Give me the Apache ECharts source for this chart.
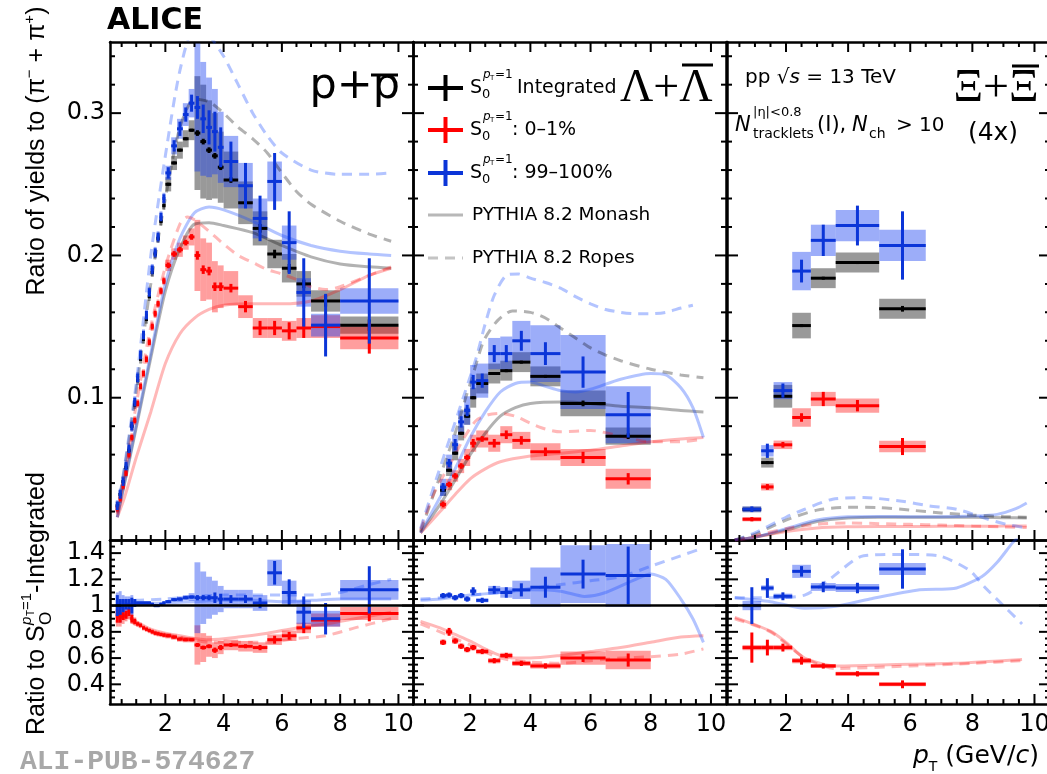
<!DOCTYPE html>
<html>
<head>
<meta charset="utf-8">
<script src="https://cdn.jsdelivr.net/npm/echarts@6/dist/echarts.min.js"></script>
<style>
html,body{margin:0;padding:0;background:#fff;overflow:hidden}
#chart{width:1047px;height:774px}
</style>
</head>
<body>
<div id="chart"></div>
<script>
// ---------- p + pbar ----------
const ppPt   = [0.35,0.45,0.55,0.65,0.75,0.85,0.95,1.05,1.15,1.25,1.35,1.45,1.55,1.65,1.75,1.85,1.95,2.1,2.3,2.5,2.7,2.9,3.1,3.3,3.5,3.7,3.9,4.25,4.75,5.25,5.75,6.25,6.75,7.5,9.0];
const ppHalf = [0.05,0.05,0.05,0.05,0.05,0.05,0.05,0.05,0.05,0.05,0.05,0.05,0.05,0.05,0.05,0.05,0.05,0.1,0.1,0.1,0.1,0.1,0.1,0.1,0.1,0.1,0.1,0.25,0.25,0.25,0.25,0.25,0.25,0.5,1.0];

const ppIntY    = [0.024,0.032,0.041,0.051,0.063,0.080,0.095,0.112,0.127,0.141,0.155,0.171,0.188,0.201,0.212,0.224,0.235,0.250,0.265,0.274,0.282,0.288,0.286,0.280,0.274,0.270,0.262,0.253,0.237,0.219,0.201,0.191,0.180,0.168,0.151];
const ppIntStat = [0.001,0.001,0.001,0.001,0.001,0.001,0.001,0.001,0.001,0.001,0.001,0.001,0.001,0.001,0.001,0.001,0.001,0.001,0.001,0.001,0.001,0.001,0.002,0.002,0.002,0.002,0.002,0.002,0.003,0.003,0.003,0.003,0.003,0.004,0.004];
const ppIntSyst = [0.003,0.003,0.003,0.003,0.003,0.003,0.003,0.003,0.003,0.003,0.003,0.003,0.003,0.003,0.003,0.003,0.003,0.005,0.005,0.006,0.006,0.007,0.04,0.04,0.035,0.03,0.025,0.02,0.015,0.012,0.01,0.01,0.009,0.0075,0.006];

const ppLowY    = [0.022,0.029,0.038,0.047,0.060,0.072,0.084,0.096,0.108,0.117,0.127,0.139,0.150,0.159,0.166,0.175,0.182,0.193,0.201,0.204,0.209,0.213,0.200,0.190,0.189,0.178,0.178,0.177,0.164,0.149,0.149,0.147,0.149,0.150,0.142];
const ppLowStat = [0.002,0.002,0.002,0.002,0.002,0.002,0.002,0.002,0.002,0.002,0.002,0.002,0.002,0.002,0.002,0.002,0.002,0.002,0.002,0.002,0.002,0.002,0.003,0.003,0.003,0.003,0.003,0.003,0.004,0.005,0.005,0.006,0.007,0.009,0.011];
const ppLowSyst = [0.003,0.003,0.003,0.003,0.003,0.003,0.003,0.003,0.003,0.003,0.003,0.003,0.003,0.003,0.003,0.003,0.003,0.004,0.004,0.005,0.005,0.006,0.025,0.022,0.02,0.018,0.015,0.012,0.008,0.007,0.007,0.007,0.007,0.008,0.008];

const ppHighY    = [0.024,0.032,0.041,0.052,0.064,0.080,0.097,0.114,0.130,0.144,0.158,0.174,0.190,0.202,0.213,0.227,0.240,0.258,0.277,0.289,0.299,0.307,0.304,0.296,0.290,0.287,0.276,0.266,0.249,0.226,0.252,0.209,0.174,0.151,0.168];
const ppHighStat = [0.003,0.003,0.003,0.003,0.003,0.003,0.003,0.003,0.003,0.003,0.003,0.003,0.003,0.003,0.003,0.003,0.003,0.004,0.004,0.005,0.005,0.006,0.008,0.01,0.012,0.014,0.014,0.014,0.016,0.016,0.02,0.022,0.024,0.022,0.03];
const ppHighSyst = [0.004,0.004,0.004,0.004,0.004,0.004,0.004,0.004,0.004,0.004,0.004,0.004,0.004,0.004,0.004,0.004,0.004,0.005,0.006,0.007,0.008,0.01,0.045,0.04,0.035,0.03,0.025,0.018,0.016,0.014,0.014,0.012,0.01,0.008,0.009];

const ppLowR      = [0.92,0.91,0.92,0.93,0.95,0.90,0.88,0.86,0.85,0.83,0.82,0.81,0.80,0.79,0.785,0.78,0.775,0.77,0.76,0.745,0.74,0.74,0.70,0.68,0.69,0.66,0.68,0.70,0.69,0.68,0.74,0.77,0.83,0.89,0.94];
const ppLowRStat  = [0.05,0.04,0.03,0.03,0.03,0.03,0.02,0.01,0.01,0.01,0.01,0.01,0.01,0.01,0.01,0.01,0.01,0.01,0.01,0.01,0.01,0.01,0.015,0.015,0.015,0.02,0.02,0.015,0.015,0.02,0.03,0.03,0.04,0.05,0.06];
const ppLowRSyst  = [0.08,0.07,0.06,0.05,0.05,0.04,0.03,0.02,0.02,0.02,0.02,0.02,0.02,0.02,0.02,0.02,0.02,0.02,0.02,0.02,0.02,0.02,0.15,0.11,0.08,0.06,0.05,0.04,0.04,0.04,0.04,0.04,0.04,0.05,0.05];
const ppHighR     = [1.0,0.99,1.0,1.01,1.01,1.0,1.02,1.02,1.02,1.02,1.02,1.02,1.01,1.0,1.0,1.01,1.02,1.03,1.045,1.05,1.06,1.065,1.06,1.06,1.06,1.06,1.05,1.05,1.05,1.02,1.25,1.10,0.95,0.90,1.12];
const ppHighRStat = [0.08,0.06,0.05,0.04,0.04,0.06,0.03,0.01,0.01,0.01,0.01,0.01,0.01,0.01,0.01,0.01,0.01,0.01,0.01,0.01,0.01,0.01,0.02,0.02,0.02,0.04,0.04,0.03,0.03,0.04,0.09,0.1,0.12,0.12,0.18];
const ppHighRSyst = [0.1,0.12,0.08,0.06,0.06,0.08,0.03,0.01,0.01,0.01,0.01,0.01,0.01,0.01,0.01,0.01,0.01,0.01,0.01,0.02,0.02,0.03,0.27,0.2,0.16,0.13,0.1,0.07,0.07,0.06,0.1,0.09,0.09,0.06,0.075];

const ppMonashInt  = [[0.35,0.016],[0.6,0.04],[1.0,0.079],[1.5,0.128],[2.0,0.175],[2.5,0.205],[3.0,0.222],[3.5,0.223],[4.0,0.221],[5.0,0.216],[6.0,0.207],[7.0,0.199],[8.0,0.194],[9.0,0.192],[9.75,0.191]];
const ppMonashLow  = [[0.35,0.016],[0.6,0.03],[1.0,0.058],[1.5,0.09],[2.0,0.124],[2.5,0.145],[3.0,0.156],[3.5,0.162],[4.0,0.165],[5.0,0.166],[6.0,0.166],[7.0,0.168],[8.0,0.176],[9.0,0.186],[9.75,0.191]];
const ppMonashHigh = [[0.35,0.016],[0.6,0.041],[1.0,0.081],[1.5,0.131],[2.0,0.18],[2.5,0.212],[3.0,0.23],[3.5,0.234],[4.0,0.232],[5.0,0.224],[6.0,0.214],[7.0,0.207],[8.0,0.203],[9.0,0.201],[9.75,0.2]];
const ppRopesInt   = [[0.35,0.02],[0.6,0.05],[1.0,0.105],[1.5,0.18],[2.0,0.24],[2.5,0.29],[3.0,0.31],[3.5,0.308],[4.0,0.3],[4.5,0.29],[5.0,0.282],[5.5,0.272],[6.0,0.258],[6.5,0.245],[7.0,0.236],[8.0,0.224],[9.0,0.215],[9.75,0.21]];
const ppRopesLow   = [[0.35,0.018],[0.6,0.045],[1.0,0.095],[1.5,0.15],[2.0,0.192],[2.5,0.222],[2.75,0.227],[3.0,0.225],[3.5,0.217],[4.0,0.208],[4.5,0.2],[5.0,0.195],[5.5,0.19],[6.0,0.187],[6.5,0.183],[7.0,0.178],[7.5,0.176],[8.0,0.178],[9.0,0.186],[9.75,0.192]];
const ppRopesHigh  = [[0.35,0.02],[0.6,0.052],[1.0,0.11],[1.5,0.2],[2.0,0.27],[2.5,0.33],[3.0,0.36],[3.3,0.36],[3.5,0.355],[4.0,0.34],[4.5,0.32],[5.0,0.30],[5.5,0.284],[6.0,0.272],[7.0,0.26],[8.0,0.257],[9.0,0.257],[9.75,0.258]];
const ppMonashRLow  = [[0.35,0.94],[0.8,0.9],[1.5,0.82],[2.0,0.79],[2.5,0.77],[3.0,0.75],[3.5,0.74],[4.5,0.76],[5.5,0.79],[6.5,0.83],[7.5,0.86],[8.5,0.9],[9.75,0.95]];
const ppRopesRLow   = [[0.35,0.93],[0.8,0.88],[1.5,0.8],[2.5,0.76],[3.5,0.72],[4.5,0.72],[5.5,0.72],[6.5,0.75],[7.5,0.77],[8.5,0.83],[9.75,0.9]];
const ppMonashRHigh = [[0.35,1.0],[1,1.01],[2,1.02],[3,1.03],[4,1.04],[5,1.04],[6,1.03],[7,1.04],[8,1.05],[9,1.05],[9.75,1.05]];
const ppRopesRHigh  = [[0.35,1.02],[1,1.04],[2,1.05],[3,1.07],[4,1.08],[5,1.08],[6,1.08],[7,1.08],[8,1.1],[9,1.16],[9.75,1.2]];

// ---------- Lambda + Lambdabar ----------
const lamPt   = [1.1,1.3,1.5,1.7,1.9,2.1,2.4,2.8,3.2,3.7,4.5,5.75,7.25];
const lamHalf = [0.1,0.1,0.1,0.1,0.1,0.1,0.2,0.2,0.2,0.3,0.5,0.75,0.75];
const lamIntY     = [0.035,0.049,0.061,0.075,0.087,0.100,0.110,0.117,0.119,0.125,0.115,0.096,0.073];
const lamIntStat  = [0.001,0.001,0.001,0.001,0.001,0.001,0.001,0.001,0.001,0.001,0.001,0.002,0.002];
const lamIntSyst  = [0.004,0.004,0.005,0.005,0.006,0.007,0.007,0.007,0.007,0.007,0.007,0.009,0.006];
const lamLowY     = [0.025,0.039,0.045,0.052,0.058,0.068,0.071,0.068,0.074,0.070,0.062,0.058,0.043];
const lamLowStat  = [0.002,0.002,0.002,0.002,0.002,0.003,0.002,0.003,0.003,0.003,0.003,0.004,0.004];
const lamLowSyst  = [0.003,0.004,0.004,0.005,0.006,0.006,0.006,0.006,0.006,0.006,0.006,0.006,0.007];
const lamHighY    = [0.037,0.054,0.067,0.083,0.091,0.111,0.112,0.131,0.131,0.140,0.131,0.118,0.088];
const lamHighStat = [0.003,0.003,0.004,0.004,0.004,0.005,0.005,0.006,0.006,0.007,0.008,0.011,0.016];
const lamHighSyst = [0.006,0.006,0.007,0.008,0.01,0.012,0.012,0.011,0.012,0.014,0.02,0.026,0.02];
const lamLowR      = [0.72,0.80,0.73,0.69,0.665,0.68,0.65,0.58,0.62,0.56,0.54,0.60,0.585];
const lamLowRStat  = [0.02,0.03,0.02,0.02,0.02,0.02,0.02,0.02,0.02,0.02,0.02,0.03,0.05];
const lamLowRSyst  = [0.02,0.02,0.02,0.02,0.02,0.02,0.02,0.02,0.02,0.02,0.02,0.05,0.07];
const lamHighR     = [1.076,1.08,1.06,1.076,1.05,1.11,1.04,1.12,1.10,1.12,1.14,1.24,1.23];
const lamHighRStat = [0.02,0.02,0.02,0.02,0.02,0.03,0.02,0.03,0.04,0.05,0.08,0.11,0.22];
const lamHighRSyst = [0.015,0.015,0.015,0.015,0.015,0.015,0.015,0.03,0.04,0.07,0.15,0.22,0.24];

const lamMonashInt  = [[0.35,0.005],[1,0.025],[1.5,0.042],[2,0.06],[2.5,0.075],[3,0.087],[3.5,0.093],[4,0.096],[5,0.097],[6,0.096],[7,0.094],[8,0.093],[9,0.091],[9.75,0.09]];
const lamMonashLow  = [[0.35,0.005],[1,0.02],[1.5,0.032],[2,0.043],[2.5,0.05],[3,0.055],[4,0.059],[5,0.061],[6,0.063],[7,0.066],[8,0.069],[9,0.071],[9.75,0.072]];
const lamMonashHigh = [[0.35,0.005],[1,0.03],[1.5,0.05],[2,0.072],[2.5,0.09],[3,0.104],[3.5,0.11],[4,0.111],[4.5,0.108],[5,0.105],[5.5,0.104],[6,0.106],[7,0.113],[8,0.117],[8.5,0.116],[9,0.107],[9.4,0.093],[9.75,0.072]];
const lamRopesInt   = [[0.35,0.006],[1.0,0.045],[1.5,0.075],[1.85,0.1],[2.05,0.113],[2.45,0.14],[2.9,0.154],[3.4,0.161],[4,0.16],[4.5,0.156],[5,0.149],[5.5,0.142],[6,0.135],[6.5,0.13],[7,0.126],[8,0.12],[9,0.116],[9.75,0.114]];
const lamRopesLow   = [[0.35,0.007],[0.8,0.033],[1.4,0.056],[1.8,0.072],[2.2,0.084],[2.6,0.088],[3.0,0.089],[3.5,0.087],[4.0,0.082],[4.5,0.078],[5.0,0.076],[6.0,0.077],[7.0,0.073],[8.0,0.069],[9.0,0.069],[9.75,0.071]];
const lamRopesHigh  = [[0.35,0.008],[0.8,0.038],[1.3,0.07],[1.8,0.102],[2.2,0.128],[2.5,0.152],[2.8,0.172],[3.2,0.186],[3.6,0.187],[4.0,0.184],[4.5,0.181],[5.0,0.177],[5.5,0.171],[6.0,0.166],[6.5,0.162],[7.0,0.16],[7.5,0.159],[8.0,0.159],[8.5,0.16],[9.0,0.163],[9.4,0.165]];
const lamMonashRLow  = [[0.35,0.88],[1,0.83],[1.5,0.78],[2,0.73],[2.5,0.67],[3,0.62],[3.5,0.6],[4,0.6],[5,0.62],[6,0.65],[7,0.68],[8,0.72],[9,0.76],[9.75,0.77]];
const lamRopesRLow   = [[0.35,0.86],[1,0.8],[2,0.7],[3,0.6],[4,0.57],[5,0.56],[6,0.58],[7,0.6],[8,0.61],[9,0.63],[9.75,0.67]];
const lamMonashRHigh = [[0.35,1.04],[1,1.05],[2,1.08],[3,1.1],[4,1.12],[5,1.11],[5.8,1.07],[6.5,1.1],[7.5,1.2],[8,1.24],[8.5,1.2],[9,1.05],[9.4,0.9],[9.75,0.72]];
const lamRopesRHigh  = [[0.35,1.05],[1,1.06],[2,1.08],[3,1.1],[4,1.13],[5,1.16],[6,1.19],[7,1.22],[8,1.3],[9,1.38],[9.75,1.44]];

// ---------- Xi + Xibar (4x) ----------
const xiPt   = [0.9,1.4,1.9,2.5,3.2,4.3,5.75];
const xiHalf = [0.3,0.2,0.3,0.3,0.4,0.7,0.75];
const xiIntY     = [0.0215,0.0544,0.101,0.1507,0.184,0.195,0.1625];
const xiIntStat  = [0.001,0.001,0.001,0.001,0.001,0.001,0.002];
const xiIntSyst  = [0.002,0.0035,0.008,0.009,0.007,0.007,0.007];
const xiLowY     = [0.0146,0.0373,0.0669,0.0861,0.0991,0.0944,0.0657];
const xiLowStat  = [0.0015,0.002,0.002,0.003,0.005,0.004,0.006];
const xiLowSyst  = [0.0015,0.0025,0.003,0.0065,0.005,0.005,0.004];
const xiHighY    = [0.0216,0.0627,0.105,0.189,0.2106,0.221,0.207];
const xiHighStat = [0.002,0.005,0.005,0.008,0.011,0.014,0.024];
const xiHighSyst = [0.002,0.004,0.006,0.0135,0.011,0.011,0.011];
const xiLowR      = [0.68,0.68,0.68,0.58,0.54,0.48,0.40];
const xiLowRStat  = [0.115,0.06,0.03,0.03,0.02,0.02,0.03];
const xiLowRSyst  = [0.02,0.02,0.02,0.02,0.015,0.015,0.015];
const xiHighR     = [1.0,1.134,1.071,1.261,1.142,1.134,1.279];
const xiHighRStat = [0.14,0.075,0.03,0.04,0.04,0.04,0.15];
const xiHighRSyst = [0.035,0.02,0.02,0.05,0.03,0.03,0.045];

const xiMonashInt  = [[0.35,0.0],[1,0.002],[2,0.007],[3,0.013],[4,0.0155],[5,0.016],[6,0.016],[7,0.016],[8,0.016],[9,0.0157],[9.75,0.0155]];
const xiMonashLow  = [[0.35,0.0],[1,0.002],[2,0.006],[3,0.0085],[4,0.0093],[5,0.0095],[6,0.0095],[7,0.0096],[8,0.0097],[9,0.0098],[9.75,0.0099]];
const xiMonashHigh = [[0.35,0.0],[1,0.002],[2,0.008],[3,0.014],[4,0.0163],[5,0.0165],[6,0.0164],[7,0.0163],[8,0.0168],[8.8,0.018],[9.4,0.022],[9.75,0.026]];
const xiRopesInt   = [[0.35,0.0],[1,0.004],[2,0.014],[3,0.021],[4,0.023],[5,0.0228],[6,0.021],[7,0.019],[8,0.0175],[9,0.0165],[9.75,0.016]];
const xiRopesLow   = [[0.35,0.0],[1,0.003],[2,0.008],[3,0.011],[4,0.012],[5,0.0115],[6,0.011],[7,0.0105],[8,0.0098],[9,0.0092],[9.75,0.0087]];
const xiRopesHigh  = [[0.35,0.0],[1,0.005],[2,0.016],[2.6,0.0216],[3.5,0.0287],[4.5,0.0298],[5.8,0.027],[6.6,0.024],[7.5,0.0216],[8.5,0.0146],[9.1,0.011],[9.75,0.0085]];
const xiMonashRLow  = [[0.35,0.91],[1.5,0.805],[2.0,0.72],[2.6,0.6],[3.6,0.54],[5.3,0.55],[7.4,0.56],[9.6,0.59]];
const xiRopesRLow   = [[0.35,0.9],[1.5,0.8],[2.6,0.6],[3.6,0.52],[6.0,0.54],[8.0,0.56],[9.6,0.58]];
const xiMonashRHigh = [[0.35,1.06],[1.5,1.03],[2.6,0.98],[3.6,0.995],[4.7,1.05],[6.3,1.12],[7.4,1.13],[8.3,1.22],[8.8,1.33],[9.3,1.48],[9.6,1.55]];
const xiRopesRHigh  = [[0.35,1.06],[1.5,1.06],[2.6,1.08],[3.4,1.2],[4.5,1.38],[5.8,1.39],[6.9,1.38],[7.9,1.27],[8.4,1.14],[9.0,1.0],[9.6,0.86]];

// ---------- styling ----------
const FONT = 'DejaVu Sans';
const BLACK = '#000', RED = '#ff0000', BLUE = '#0b35d8';
const BOX_K = 'rgba(0,0,0,0.4)', BOX_R = 'rgba(255,0,0,0.38)', BOX_B = 'rgba(20,60,240,0.42)';
const MOD_K = 'rgba(0,0,0,0.3)', MOD_R = 'rgba(255,0,0,0.28)', MOD_B = 'rgba(20,70,255,0.32)';

// left, top, width, height of the six frames
const GRIDS = [[110,42,303,498],[413,42,313,498],[727,42,323,498],[110,540,303,164],[413,540,313,164],[727,540,323,164]];
const X_RANGE = [0.1, 10.5];
const Y_TOP = [0, 0.35], Y_RATIO = [0.25, 1.5];

const grid = GRIDS.map(([l,t,w,h]) => ({left:l, top:t, width:w, height:h, containLabel:false, outerBoundsMode:'none'}));
const xAxis = [], yAxis = [];
GRIDS.forEach((gd, g) => {
  const ratio = g >= 3;
  ['bottom','top'].forEach(pos => {
    xAxis.push({gridIndex:g, type:'value', position:pos, min:X_RANGE[0], max:X_RANGE[1], splitNumber:5,
      axisLine:{show:true, onZero:false, lineStyle:{color:'#000', width:2.5}},
      axisTick:{show:false},
      axisLabel:{show:ratio && pos === 'bottom', showMinLabel:false, showMaxLabel:false, margin:9,
        fontFamily:FONT, fontSize:24, color:'#000'},
      splitLine:{show:false}});
  });
  const r = ratio ? Y_RATIO : Y_TOP;
  ['left','right'].forEach(pos => {
    yAxis.push({gridIndex:g, type:'value', position:pos, min:r[0], max:r[1], splitNumber:ratio ? 6 : 4,
      axisLine:{show:true, onZero:false, lineStyle:{color:'#000', width:2.5}},
      axisTick:{show:false},
      axisLabel:{show:(g === 0 || g === 3) && pos === 'left', showMinLabel:false, showMaxLabel:false, margin:5,
        fontFamily:FONT, fontSize:24, color:'#000'},
      splitLine:{show:false}});
  });
});

function rows(pt, half, ys, errs) { return pt.map((x, i) => [x, ys[i], half[i], errs[i]]); }

function boxSeries(g, pt, half, ys, errs, color) {
  return {type:'custom', xAxisIndex:2*g, yAxisIndex:2*g, silent:true, z:1,
    data:rows(pt, half, ys, errs), encode:{x:0, y:1},
    renderItem(params, api) {
      const x = api.value(0), y = api.value(1), h = api.value(2), e = api.value(3);
      const p0 = api.coord([x - h, y + e]), p1 = api.coord([x + h, y - e]);
      const shape = echarts.graphic.clipRectByRect(
        {x:p0[0], y:p0[1], width:p1[0] - p0[0], height:p1[1] - p0[1]}, params.coordSys);
      if (!shape) return;
      return {type:'rect', shape, style:{fill:color}};
    }};
}

function crossSeries(g, pt, half, ys, errs, color) {
  return {type:'custom', xAxisIndex:2*g, yAxisIndex:2*g, silent:true, z:4,
    data:rows(pt, half, ys, errs), encode:{x:0, y:1},
    renderItem(params, api) {
      const cs = params.coordSys;
      const x = api.value(0), y = api.value(1), h = api.value(2), e = api.value(3);
      const c = api.coord([x, y]);
      if (c[1] < cs.y || c[1] > cs.y + cs.height) return;
      const xl = Math.max(api.coord([x - h, y])[0], cs.x);
      const xr = Math.min(api.coord([x + h, y])[0], cs.x + cs.width);
      const yt = Math.max(Math.min(api.coord([x, y + e])[1], c[1] - 1.5), cs.y);
      const yb = Math.min(Math.max(api.coord([x, y - e])[1], c[1] + 1.5), cs.y + cs.height);
      return {type:'group', children:[
        {type:'line', shape:{x1:xl, y1:c[1], x2:xr, y2:c[1]}, style:{stroke:color, lineWidth:3}},
        {type:'line', shape:{x1:c[0], y1:yt, x2:c[0], y2:yb}, style:{stroke:color, lineWidth:3}}
      ]};
    }};
}

function modelSeries(g, pts, color, dashed, extra) {
  return Object.assign({type:'line', xAxisIndex:2*g, yAxisIndex:2*g, data:pts, symbol:'none',
    smooth:0.25, silent:true, z:3, clip:true,
    lineStyle:{color, width:3, type:dashed ? [10, 7] : 'solid'}}, extra || {});
}

const unityLine = {markLine:{silent:true, symbol:['none','none'], label:{show:false},
  lineStyle:{color:'#000', width:2.5, type:'solid'}, data:[{yAxis:1}]}};

const series = [];
function panel(g, pt, half, sets, models) {
  sets.forEach(s => series.push(boxSeries(g, pt, half, s[0], s[2], s[4])));
  models.forEach((m, i) => series.push(modelSeries(g, m[0], m[1], m[2], g >= 3 && i === 0 ? unityLine : null)));
  sets.forEach(s => series.push(crossSeries(g, pt, half, s[0], s[1], s[3])));
}

panel(0, ppPt, ppHalf, [
  [ppIntY, ppIntStat, ppIntSyst, BLACK, BOX_K],
  [ppLowY, ppLowStat, ppLowSyst, RED, BOX_R],
  [ppHighY, ppHighStat, ppHighSyst, BLUE, BOX_B]
], [[ppMonashInt, MOD_K, false], [ppMonashLow, MOD_R, false], [ppMonashHigh, MOD_B, false],
    [ppRopesInt, MOD_K, true], [ppRopesLow, MOD_R, true], [ppRopesHigh, MOD_B, true]]);

panel(1, lamPt, lamHalf, [
  [lamIntY, lamIntStat, lamIntSyst, BLACK, BOX_K],
  [lamLowY, lamLowStat, lamLowSyst, RED, BOX_R],
  [lamHighY, lamHighStat, lamHighSyst, BLUE, BOX_B]
], [[lamMonashInt, MOD_K, false], [lamMonashLow, MOD_R, false], [lamMonashHigh, MOD_B, false],
    [lamRopesInt, MOD_K, true], [lamRopesLow, MOD_R, true], [lamRopesHigh, MOD_B, true]]);

panel(2, xiPt, xiHalf, [
  [xiIntY, xiIntStat, xiIntSyst, BLACK, BOX_K],
  [xiLowY, xiLowStat, xiLowSyst, RED, BOX_R],
  [xiHighY, xiHighStat, xiHighSyst, BLUE, BOX_B]
], [[xiMonashInt, MOD_K, false], [xiMonashLow, MOD_R, false], [xiMonashHigh, MOD_B, false],
    [xiRopesInt, MOD_K, true], [xiRopesLow, MOD_R, true], [xiRopesHigh, MOD_B, true]]);

panel(3, ppPt, ppHalf, [
  [ppLowR, ppLowRStat, ppLowRSyst, RED, BOX_R],
  [ppHighR, ppHighRStat, ppHighRSyst, BLUE, BOX_B]
], [[ppMonashRLow, MOD_R, false], [ppMonashRHigh, MOD_B, false], [ppRopesRLow, MOD_R, true], [ppRopesRHigh, MOD_B, true]]);

panel(4, lamPt, lamHalf, [
  [lamLowR, lamLowRStat, lamLowRSyst, RED, BOX_R],
  [lamHighR, lamHighRStat, lamHighRSyst, BLUE, BOX_B]
], [[lamMonashRLow, MOD_R, false], [lamMonashRHigh, MOD_B, false], [lamRopesRLow, MOD_R, true], [lamRopesRHigh, MOD_B, true]]);

panel(5, xiPt, xiHalf, [
  [xiLowR, xiLowRStat, xiLowRSyst, RED, BOX_R],
  [xiHighR, xiHighRStat, xiHighRSyst, BLUE, BOX_B]
], [[xiMonashRLow, MOD_R, false], [xiMonashRHigh, MOD_B, false], [xiRopesRLow, MOD_R, true], [xiRopesRHigh, MOD_B, true]]);

// ---------- text, legend ----------
function txt(x, y, text, size, o) {
  o = o || {};
  return {type:'text', x, y, rotation:o.rot || 0, silent:true, z:10,
    style:{text, fill:o.color || '#000',
      font:(o.italic ? 'italic ' : '') + (o.bold ? 'bold ' : '') + size + 'px "' + (o.family || FONT) + '"',
      textAlign:o.align || 'left', textVerticalAlign:'middle', rich:o.rich}};
}
function seg(x1, y1, x2, y2, color, w, dash) {
  return {type:'line', silent:true, z:10, shape:{x1, y1, x2, y2}, style:{stroke:color, lineWidth:w, lineDash:dash || null}};
}
function sLabel(x, y) {
  return [
    txt(x, y, 'S', 19),
    txt(x + 12, y + 7, '0', 13),
    txt(x + 13, y - 13, 'p', 12, {italic:true}),
    txt(x + 20, y - 10, 'T', 7),
    txt(x + 25, y - 13, '=1', 12)
  ];
}

const elements = [];
elements.push(txt(107, 21, 'ALICE', 30, {bold:true}));
elements.push(txt(20, 762, 'ALI-PUB-574627', 28, {bold:true, family:'Liberation Mono', color:'#a8a8a8'}));

// panel titles
elements.push(txt(400, 87, 'p+p', 43, {align:'right'}));
elements.push(seg(371, 75, 398, 75, '#000', 3));
elements.push(txt(620, 89, 'Λ+Λ', 46, {family:'Liberation Serif'}));
elements.push(seg(682, 65, 713, 65, '#000', 3));
elements.push(txt(996, 89, 'Ξ+Ξ', 46, {family:'Liberation Serif', align:'center'}));
elements.push(seg(1012, 66, 1039, 66, '#000', 3));
elements.push(txt(993, 133, '(4x)', 25, {align:'center'}));

// collision system
elements.push(txt(745, 78, '{n|pp }{n|√}{i|s}{n| = 13 TeV}', 20, {rich:{
  n:{fontFamily:FONT, fontSize:20}, i:{fontFamily:FONT, fontSize:20, fontStyle:'italic'}}}));
elements.push(txt(735, 126, 'N', 21, {italic:true}));
elements.push(txt(753, 113, '|η|<0.8', 13));
elements.push(txt(753, 134, 'tracklets', 14));
elements.push(txt(817, 126, '(I),', 21));
elements.push(txt(852, 126, 'N', 21, {italic:true}));
elements.push(txt(869, 134, 'ch', 14));
elements.push(txt(896, 126, '> 10', 20));

// legend
const LEG = [88, 130, 173, 215, 258];
[[BLACK, 0], [RED, 1], [BLUE, 2]].forEach(([c, i]) => {
  elements.push(seg(428, LEG[i], 463, LEG[i], c, 4));
  elements.push(seg(445.5, LEG[i] - 13, 445.5, LEG[i] + 13, c, 4));
  sLabel(470, LEG[i]).forEach(e => elements.push(e));
});
elements.push(txt(517, LEG[0], 'Integrated', 19));
elements.push(txt(512, LEG[1], ': 0–1%', 19));
elements.push(txt(512, LEG[2], ': 99–100%', 19));
elements.push(seg(428, LEG[3], 463, LEG[3], '#b8b8b8', 3));
elements.push(txt(472, LEG[3], 'PYTHIA 8.2 Monash', 18.5));
elements.push(seg(428, LEG[4], 463, LEG[4], '#c4c4c4', 3, [10, 7]));
elements.push(txt(472, LEG[4], 'PYTHIA 8.2 Ropes', 18.5));

// axis titles
const ROT = Math.PI / 2;
elements.push(txt(37, 151, '{n|Ratio of yields to (π}{s|−}{n| + π}{s|+}{n|)}', 25, {rot:ROT, align:'center', rich:{
  n:{fontFamily:'Liberation Sans', fontSize:25, lineHeight:30},
  s:{fontFamily:'Liberation Sans', fontSize:15, lineHeight:16, verticalAlign:'top'}}}));
elements.push(txt(37, 735, 'Ratio to S', 25, {rot:ROT, family:'Liberation Sans'}));
elements.push(txt(46, 625, 'O', 17, {rot:ROT, family:'Liberation Sans'}));
elements.push(txt(27, 625, 'p', 15, {rot:ROT, family:'Liberation Sans', italic:true}));
elements.push(txt(31, 616, 'T', 10, {rot:ROT, family:'Liberation Sans'}));
elements.push(txt(27, 610, '=1', 15, {rot:ROT, family:'Liberation Sans'}));
elements.push(txt(37, 593, '-Integrated', 25, {rot:ROT, family:'Liberation Sans'}));
elements.push(txt(913, 756, '{i|p}{b|T}{n| (GeV/}{i|c}{n|)}', 25, {rich:{
  n:{fontFamily:FONT, fontSize:25, lineHeight:36},
  i:{fontFamily:FONT, fontSize:25, lineHeight:36, fontStyle:'italic'},
  b:{fontFamily:FONT, fontSize:14, lineHeight:16, verticalAlign:'bottom'}}}));

const chart = echarts.init(document.getElementById('chart'), null, {renderer:'canvas'});
chart.setOption({
  animation:false,
  backgroundColor:'#fff',
  grid, xAxis, yAxis, series
});

// pixel position of a value on an axis: ask the axis scale, fall back to its linear extent
function toPx(dim, g, v) {
  const finder = dim === 'x' ? {xAxisIndex:2*g} : {yAxisIndex:2*g};
  let p = chart.convertToPixel(finder, v);
  if (Array.isArray(p)) p = p[dim === 'x' ? 0 : 1];
  if (typeof p === 'number' && isFinite(p)) return p;
  const [l, t, w, h] = GRIDS[g];
  if (dim === 'x') return l + (v - X_RANGE[0]) / (X_RANGE[1] - X_RANGE[0]) * w;
  const r = g >= 3 ? Y_RATIO : Y_TOP;
  return t + h - (v - r[0]) / (r[1] - r[0]) * h;
}

// inward tick marks on all four sides of every frame
GRIDS.forEach(([l, t, w, h], g) => {
  const ratio = g >= 3, b = t + h, r = l + w;
  for (let k = 1; k <= 21; k++) {
    const px = toPx('x', g, k * 0.5), len = k % 4 === 0 ? 10 : 5;
    if (!(px > l + 1 && px < r - 1)) continue;
    elements.push(seg(px, b, px, b - len, '#000', 2));
    elements.push(seg(px, t, px, t + len, '#000', 2));
  }
  const n = ratio ? [6, 29, 0.05, 4] : [1, 17, 0.02, 5];
  for (let k = n[0]; k <= n[1]; k++) {
    const py = toPx('y', g, k * n[2]), len = k % n[3] === 0 ? 11 : 5;
    if (!(py > t + 1 && py < b - 1)) continue;
    elements.push(seg(l, py, l + len, py, '#000', 2));
    elements.push(seg(r, py, r - len, py, '#000', 2));
  }
});

chart.setOption({graphic:{elements}});
</script>
</body>
</html>
